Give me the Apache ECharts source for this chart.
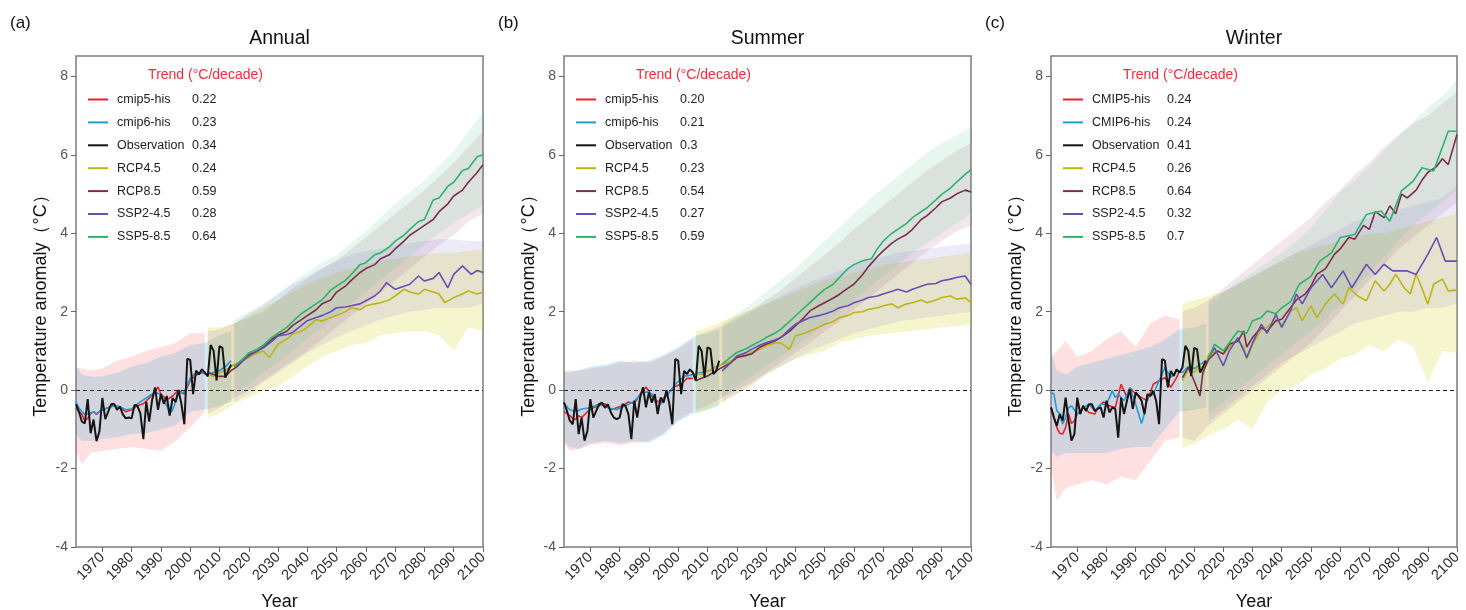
<!DOCTYPE html>
<html>
<head>
<meta charset="utf-8">
<script src="https://cdn.jsdelivr.net/npm/echarts@6/dist/echarts.min.js"></script>
<style>
html, body { margin: 0; background: #fff; }
#chart { width: 1466px; height: 610px; }
</style>
</head>
<body>
<div id="chart"></div>
<script>
// ---- axis ticks ----
const xTicks = [1970, 1980, 1990, 2000, 2010, 2020, 2030, 2040, 2050, 2060, 2070, 2080, 2090, 2100]
const yTicks = [-4, -2, 0, 2, 4, 6, 8]

// ---- years used by the spread bands ----
const cmip5BandYears = [1961, 1963, 1966, 1970, 1975, 1980, 1985, 1990, 1995, 2000, 2005]
const cmip6BandYears = [1961, 1963, 1966, 1970, 1975, 1980, 1985, 1990, 1995, 2000, 2005, 2010, 2014]
const rcpBandYears = [2006, 2010, 2015, 2020, 2025, 2030, 2035, 2040, 2045, 2050, 2055, 2060, 2065, 2070, 2075, 2080, 2085, 2090, 2095, 2100]
const sspBandYears = [2015, 2020, 2025, 2030, 2035, 2040, 2045, 2050, 2055, 2060, 2065, 2070, 2075, 2080, 2085, 2090, 2095, 2100]

// observation years 1961-2014
const obsYears = []
for (let y = 1961; y <= 2014; y++) obsYears.push(y)

// ================= (a) Annual =================
const annObs = [-0.36, -0.55, -0.8, -0.85, -0.23, -1.1, -0.75, -1.3, -1.05, -0.2,
	-0.74, -0.55, -0.36, -0.35, -0.5, -0.42, -0.62, -0.72, -0.7, -0.72,
	-0.38, -0.4, -0.6, -1.25, -0.3, -0.8, -0.25, 0.07, -0.5, -0.1,
	-0.35, -0.15, -0.65, -0.2, -0.3, 0.0, -0.35, -0.87, 0.8, 0.77,
	-0.1, 0.5, 0.4, 0.53, 0.45, 0.35, 1.15, 1.0, 0.25, 1.12,
	1.08, 0.32, 0.5, 0.65]
const annCmip5 = [[1961, -0.45], [1962, -0.55], [1963, -0.62], [1964, -0.78], [1965, -0.72], [1966, -0.6], [1967, -0.55], [1968, -0.62], [1969, -0.55], [1970, -0.5], [1972, -0.45], [1974, -0.38], [1976, -0.45], [1978, -0.55], [1980, -0.5], [1982, -0.4], [1984, -0.35], [1986, -0.2], [1988, -0.05], [1989, 0.08], [1990, -0.1], [1992, -0.25], [1994, -0.15], [1996, 0.0], [1998, -0.1], [2000, 0.25], [2002, 0.38], [2004, 0.45], [2005, 0.42]]
const annCmip6 = [[1961, -0.3], [1962, -0.45], [1963, -0.55], [1964, -0.62], [1965, -0.6], [1966, -0.58], [1967, -0.55], [1968, -0.6], [1970, -0.5], [1972, -0.45], [1974, -0.4], [1976, -0.42], [1978, -0.5], [1980, -0.48], [1982, -0.35], [1984, -0.25], [1986, -0.15], [1988, -0.05], [1990, -0.12], [1992, -0.4], [1993, -0.6], [1994, -0.5], [1996, -0.1], [1998, -0.05], [2000, 0.3], [2002, 0.45], [2004, 0.45], [2006, 0.4], [2008, 0.45], [2010, 0.5], [2012, 0.6], [2014, 0.75]]
const annRcp45 = [[2006, 0.42], [2008, 0.35], [2010, 0.45], [2012, 0.5], [2015, 0.66], [2018, 0.75], [2020, 0.83], [2023, 0.95], [2025, 1.0], [2027, 0.83], [2030, 1.17], [2033, 1.3], [2035, 1.43], [2038, 1.5], [2040, 1.6], [2043, 1.8], [2045, 1.76], [2048, 1.85], [2050, 1.9], [2053, 2.0], [2055, 2.1], [2058, 2.05], [2060, 2.15], [2063, 2.2], [2065, 2.23], [2068, 2.3], [2070, 2.4], [2073, 2.57], [2075, 2.5], [2078, 2.45], [2080, 2.57], [2083, 2.5], [2085, 2.45], [2087, 2.23], [2090, 2.36], [2093, 2.45], [2095, 2.53], [2098, 2.45], [2100, 2.5]]
const annRcp85 = [[2006, 0.45], [2008, 0.4], [2010, 0.35], [2012, 0.35], [2014, 0.5], [2016, 0.6], [2018, 0.75], [2020, 0.9], [2023, 1.0], [2025, 1.1], [2028, 1.3], [2030, 1.4], [2033, 1.5], [2035, 1.65], [2038, 1.8], [2040, 1.9], [2043, 2.05], [2045, 2.2], [2048, 2.3], [2050, 2.5], [2053, 2.65], [2055, 2.8], [2058, 3.0], [2060, 3.1], [2063, 3.2], [2065, 3.35], [2068, 3.45], [2070, 3.6], [2073, 3.8], [2075, 3.95], [2078, 4.1], [2080, 4.2], [2083, 4.35], [2085, 4.55], [2088, 4.75], [2090, 4.95], [2093, 5.1], [2095, 5.3], [2098, 5.55], [2100, 5.75]]
const annSsp245 = [[2015, 0.6], [2018, 0.75], [2020, 0.87], [2023, 1.0], [2025, 1.08], [2028, 1.25], [2030, 1.38], [2033, 1.42], [2035, 1.47], [2038, 1.65], [2040, 1.77], [2043, 1.85], [2045, 1.9], [2048, 2.0], [2050, 2.1], [2053, 2.12], [2055, 2.15], [2058, 2.2], [2060, 2.28], [2063, 2.4], [2065, 2.53], [2067, 2.74], [2070, 2.57], [2073, 2.65], [2075, 2.7], [2078, 2.91], [2080, 2.78], [2083, 2.85], [2085, 3.0], [2088, 2.61], [2090, 2.95], [2093, 3.17], [2096, 2.95], [2098, 3.05], [2100, 3.0]]
const annSsp585 = [[2015, 0.6], [2018, 0.8], [2020, 0.95], [2023, 1.05], [2025, 1.15], [2028, 1.35], [2030, 1.45], [2033, 1.6], [2035, 1.75], [2038, 1.95], [2040, 2.05], [2043, 2.2], [2045, 2.3], [2048, 2.55], [2050, 2.65], [2053, 2.8], [2055, 2.95], [2058, 3.2], [2060, 3.25], [2063, 3.45], [2065, 3.5], [2068, 3.65], [2070, 3.8], [2073, 3.95], [2075, 4.1], [2078, 4.3], [2080, 4.35], [2083, 4.85], [2085, 4.9], [2088, 5.2], [2090, 5.3], [2093, 5.6], [2095, 5.65], [2098, 5.95], [2100, 6.0]]
const annCmip5Lo = [-1.55, -1.89, -1.6, -1.55, -1.5, -1.45, -1.5, -1.55, -1.3, -0.95, -0.55]
const annCmip5Hi = [0.58, 0.55, 0.5, 0.55, 0.75, 0.85, 1.0, 1.1, 1.2, 1.45, 1.45]
const annCmip6Lo = [-1.12, -1.3, -1.3, -1.25, -1.2, -1.12, -1.1, -1.0, -0.9, -0.55, -0.5, -0.4, -0.3]
const annCmip6Hi = [0.62, 0.4, 0.35, 0.35, 0.45, 0.6, 0.7, 0.85, 0.95, 1.15, 1.2, 1.4, 1.5]
const annRcp45Lo = [-0.7, -0.6, -0.35, -0.2, 0.0, 0.1, 0.35, 0.6, 0.85, 1.0, 1.15, 1.2, 1.4, 1.45, 1.5, 1.5, 1.4, 1.0, 1.6, 1.5]
const annRcp45Hi = [1.6, 1.6, 1.7, 1.9, 2.1, 2.3, 2.5, 2.7, 2.85, 3.0, 3.1, 3.2, 3.3, 3.35, 3.4, 3.45, 3.5, 3.5, 3.55, 3.6]
const annRcp85Lo = [-0.6, -0.45, -0.2, 0.0, 0.25, 0.5, 0.75, 1.0, 1.3, 1.6, 1.9, 2.2, 2.5, 2.8, 3.1, 3.4, 3.7, 3.95, 4.3, 4.5]
const annRcp85Hi = [1.5, 1.55, 1.7, 1.85, 2.0, 2.3, 2.6, 2.85, 3.1, 3.3, 3.6, 3.9, 4.2, 4.5, 4.8, 5.1, 5.45, 5.8, 6.2, 6.6]
const annSsp245Lo = [-0.3, -0.1, 0.2, 0.45, 0.7, 0.95, 1.15, 1.35, 1.5, 1.65, 1.8, 1.9, 2.0, 2.05, 2.1, 2.1, 2.1, 2.2]
const annSsp245Hi = [1.7, 1.95, 2.2, 2.45, 2.7, 2.9, 3.1, 3.3, 3.45, 3.55, 3.6, 3.7, 3.75, 3.8, 3.85, 3.85, 3.8, 3.8]
const annSsp585Lo = [-0.1, 0.15, 0.45, 0.7, 1.0, 1.3, 1.6, 1.9, 2.2, 2.5, 2.8, 3.1, 3.4, 3.7, 4.0, 4.25, 4.5, 4.7]
const annSsp585Hi = [1.8, 2.0, 2.15, 2.45, 2.75, 3.0, 3.25, 3.45, 3.75, 4.05, 4.4, 4.75, 5.05, 5.35, 5.7, 6.1, 6.6, 7.1]
const annTrend = ['0.22', '0.23', '0.34', '0.24', '0.59', '0.28', '0.64']

// ================= (b) Summer =================
const sumObs = [-0.31, -0.53, -0.78, -0.87, -0.23, -1.12, -0.7, -1.29, -1.04, -0.23,
	-0.7, -0.53, -0.36, -0.32, -0.45, -0.36, -0.57, -0.7, -0.74, -0.7,
	-0.36, -0.4, -0.61, -1.25, -0.27, -0.7, -0.19, 0.07, -0.44, -0.06,
	-0.32, -0.1, -0.61, -0.19, -0.32, 0.0, -0.36, -0.87, 0.79, 0.75,
	-0.1, 0.49, 0.41, 0.53, 0.45, 0.24, 1.13, 1.0, 0.32, 1.09,
	1.05, 0.41, 0.49, 0.75]
const sumCmip5 = [[1961, -0.55], [1962, -0.6], [1963, -0.65], [1964, -0.72], [1965, -0.75], [1966, -0.65], [1967, -0.7], [1969, -0.55], [1971, -0.45], [1973, -0.4], [1975, -0.35], [1977, -0.5], [1979, -0.45], [1981, -0.4], [1983, -0.3], [1985, -0.35], [1987, -0.1], [1989, 0.08], [1991, -0.15], [1993, -0.3], [1995, -0.2], [1997, -0.05], [1999, 0.1], [2001, 0.15], [2003, 0.3], [2005, 0.3]]
const sumCmip6 = [[1961, -0.35], [1963, -0.5], [1965, -0.55], [1967, -0.48], [1970, -0.45], [1973, -0.35], [1976, -0.45], [1979, -0.5], [1982, -0.4], [1985, -0.28], [1988, -0.05], [1990, -0.05], [1991, -0.1], [1993, -0.45], [1994, -0.35], [1996, -0.15], [1999, 0.15], [2002, 0.35], [2005, 0.4], [2008, 0.45], [2011, 0.5], [2014, 0.65]]
const sumRcp45 = [[2006, 0.45], [2008, 0.4], [2010, 0.49], [2012, 0.55], [2015, 0.66], [2018, 0.75], [2020, 0.83], [2023, 0.9], [2025, 0.96], [2028, 1.05], [2030, 1.13], [2033, 1.2], [2035, 1.21], [2038, 1.04], [2040, 1.38], [2043, 1.45], [2045, 1.51], [2048, 1.6], [2050, 1.68], [2053, 1.75], [2055, 1.85], [2058, 1.9], [2060, 1.98], [2063, 2.0], [2065, 2.06], [2068, 2.1], [2070, 2.15], [2073, 2.2], [2075, 2.1], [2078, 2.2], [2080, 2.23], [2083, 2.3], [2085, 2.23], [2088, 2.3], [2090, 2.36], [2093, 2.4], [2095, 2.32], [2098, 2.35], [2100, 2.23]]
const sumRcp85 = [[2006, 0.24], [2008, 0.3], [2010, 0.36], [2012, 0.45], [2015, 0.58], [2018, 0.7], [2020, 0.83], [2023, 0.88], [2025, 0.92], [2028, 1.1], [2030, 1.17], [2033, 1.25], [2035, 1.34], [2038, 1.5], [2040, 1.64], [2043, 1.85], [2045, 2.02], [2048, 2.15], [2050, 2.23], [2053, 2.35], [2055, 2.44], [2058, 2.6], [2060, 2.7], [2063, 2.95], [2065, 3.15], [2068, 3.4], [2070, 3.55], [2073, 3.75], [2075, 3.85], [2078, 3.97], [2080, 4.1], [2083, 4.35], [2085, 4.45], [2088, 4.65], [2090, 4.8], [2093, 4.9], [2095, 5.0], [2098, 5.1], [2100, 5.05]]
const sumSsp245 = [[2015, 0.49], [2018, 0.7], [2020, 0.87], [2023, 0.95], [2025, 1.04], [2028, 1.15], [2030, 1.21], [2033, 1.28], [2035, 1.34], [2038, 1.55], [2040, 1.68], [2043, 1.78], [2045, 1.85], [2048, 1.9], [2050, 1.94], [2053, 2.02], [2055, 2.1], [2058, 2.15], [2060, 2.23], [2063, 2.3], [2065, 2.36], [2068, 2.4], [2070, 2.45], [2073, 2.52], [2075, 2.57], [2078, 2.5], [2080, 2.57], [2083, 2.65], [2085, 2.7], [2088, 2.72], [2090, 2.79], [2093, 2.83], [2095, 2.87], [2098, 2.91], [2100, 2.7]]
const sumSsp585 = [[2015, 0.66], [2018, 0.85], [2020, 0.96], [2023, 1.05], [2025, 1.13], [2028, 1.25], [2030, 1.34], [2033, 1.45], [2035, 1.55], [2038, 1.75], [2040, 1.89], [2043, 2.1], [2045, 2.23], [2048, 2.44], [2050, 2.57], [2053, 2.7], [2055, 2.87], [2058, 3.1], [2060, 3.2], [2063, 3.3], [2066, 3.35], [2068, 3.6], [2070, 3.8], [2073, 4.0], [2075, 4.1], [2078, 4.25], [2080, 4.4], [2083, 4.55], [2085, 4.65], [2088, 4.85], [2090, 4.99], [2093, 5.15], [2095, 5.3], [2098, 5.5], [2100, 5.62]]
const sumCmip5Lo = [-1.35, -1.55, -1.5, -1.4, -1.35, -1.4, -1.35, -1.3, -1.1, -0.75, -0.55]
const sumCmip5Hi = [0.45, 0.5, 0.5, 0.55, 0.6, 0.7, 0.75, 0.7, 0.85, 1.05, 1.3]
const sumCmip6Lo = [-1.3, -1.45, -1.5, -1.35, -1.3, -1.35, -1.3, -1.35, -1.15, -0.8, -0.6, -0.5, -0.4]
const sumCmip6Hi = [0.5, 0.45, 0.5, 0.6, 0.65, 0.75, 0.7, 0.75, 0.9, 1.1, 1.35, 1.45, 1.55]
const sumRcp45Lo = [-0.6, -0.5, -0.3, -0.1, 0.1, 0.4, 0.6, 0.8, 0.9, 1.0, 1.2, 1.3, 1.38, 1.43, 1.47, 1.51, 1.55, 1.6, 1.62, 1.68]
const sumRcp45Hi = [1.5, 1.6, 1.75, 1.9, 2.05, 2.2, 2.35, 2.5, 2.65, 2.8, 2.9, 3.0, 3.1, 3.2, 3.25, 3.3, 3.35, 3.4, 3.45, 3.5]
const sumRcp85Lo = [-0.5, -0.4, -0.2, 0.0, 0.2, 0.45, 0.7, 0.95, 1.2, 1.5, 1.75, 2.05, 2.35, 2.65, 2.95, 3.25, 3.55, 3.8, 4.05, 4.2]
const sumRcp85Hi = [1.4, 1.5, 1.65, 1.85, 2.05, 2.3, 2.55, 2.85, 3.15, 3.45, 3.75, 4.1, 4.4, 4.7, 5.0, 5.3, 5.6, 5.85, 6.1, 6.3]
const sumSsp245Lo = [-0.3, -0.1, 0.15, 0.4, 0.6, 0.8, 1.0, 1.15, 1.3, 1.45, 1.55, 1.65, 1.75, 1.8, 1.85, 1.9, 1.95, 2.0]
const sumSsp245Hi = [1.6, 1.8, 2.0, 2.2, 2.4, 2.6, 2.75, 2.9, 3.05, 3.2, 3.3, 3.4, 3.5, 3.55, 3.6, 3.65, 3.7, 3.75]
const sumSsp585Lo = [-0.2, 0.1, 0.35, 0.6, 0.85, 1.1, 1.4, 1.7, 2.0, 2.3, 2.6, 2.9, 3.2, 3.5, 3.75, 4.0, 4.25, 4.5]
const sumSsp585Hi = [1.7, 1.95, 2.2, 2.5, 2.8, 3.1, 3.45, 3.8, 4.15, 4.5, 4.85, 5.15, 5.45, 5.75, 6.05, 6.3, 6.5, 6.7]
const sumTrend = ['0.20', '0.21', '0.3', '0.23', '0.54', '0.27', '0.59']

// ================= (c) Winter =================
const winObs = [-0.44, -0.7, -0.91, -0.61, -0.78, -0.19, -0.78, -1.29, -1.12, -0.19,
	-0.61, -0.4, -0.53, -0.36, -0.36, -0.53, -0.48, -0.44, -0.7, -0.27,
	-0.57, -0.44, -0.48, -1.21, -0.19, -0.61, -0.27, 0.02, -0.48, -0.06,
	-0.15, -0.27, -0.61, -0.1, -0.15, -0.02, -0.27, -0.87, 0.79, 0.75,
	0.07, 0.49, 0.36, 0.53, 0.45, 0.58, 1.13, 1.0, 0.36, 1.08,
	1.04, 0.45, 0.58, 0.75]
const winCmip5 = [[1961, -0.44], [1962, -0.7], [1963, -0.95], [1964, -1.1], [1965, -1.12], [1966, -0.95], [1967, -0.6], [1968, -0.85], [1969, -0.78], [1970, -0.61], [1972, -0.45], [1974, -0.57], [1976, -0.61], [1977, -0.45], [1979, -0.3], [1981, -0.4], [1983, -0.45], [1985, 0.15], [1986, -0.02], [1987, -0.19], [1988, 0.06], [1990, -0.1], [1992, -0.19], [1994, -0.27], [1996, 0.15], [1998, 0.24], [2000, 0.32], [2002, 0.07], [2004, 0.32], [2005, 0.49]]
const winCmip6 = [[1961, -0.06], [1962, -0.1], [1963, -0.53], [1964, -0.6], [1965, -0.87], [1966, -0.7], [1967, -0.45], [1968, -0.4], [1970, -0.61], [1972, -0.45], [1974, -0.36], [1976, -0.53], [1978, -0.36], [1980, -0.36], [1982, -0.02], [1983, -0.19], [1984, -0.1], [1986, -0.27], [1988, 0.06], [1990, -0.36], [1992, -0.85], [1993, -0.6], [1994, -0.19], [1996, -0.1], [1998, 0.24], [2000, 0.58], [2002, 0.32], [2004, 0.49], [2006, 0.45], [2008, 0.6], [2010, 0.55], [2012, 0.65], [2014, 0.75]]
const winRcp45 = [[2006, 0.24], [2008, 0.53], [2010, 0.45], [2012, 0.66], [2013, 0.4], [2015, 0.92], [2018, 1.0], [2020, 0.92], [2023, 1.17], [2025, 1.25], [2027, 1.1], [2028, 0.79], [2030, 1.17], [2033, 1.55], [2035, 1.6], [2038, 1.81], [2040, 1.64], [2043, 2.02], [2045, 2.1], [2047, 1.77], [2050, 2.15], [2052, 1.85], [2055, 2.2], [2058, 2.45], [2061, 2.19], [2063, 2.62], [2066, 2.4], [2069, 2.28], [2072, 2.79], [2075, 2.53], [2077, 2.7], [2079, 2.96], [2082, 2.6], [2084, 2.45], [2086, 2.96], [2088, 2.6], [2090, 2.19], [2092, 2.7], [2095, 2.83], [2097, 2.53], [2100, 2.55]]
const winRcp85 = [[2006, 0.32], [2008, 0.58], [2010, 0.24], [2012, -0.15], [2013, 0.45], [2015, 0.79], [2018, 1.0], [2020, 0.92], [2022, 1.17], [2025, 1.25], [2027, 1.51], [2028, 1.1], [2030, 1.34], [2033, 1.6], [2035, 1.5], [2038, 1.77], [2040, 1.81], [2043, 2.1], [2045, 2.3], [2048, 2.45], [2050, 2.65], [2052, 2.95], [2055, 3.1], [2058, 3.46], [2060, 3.6], [2063, 3.9], [2065, 3.85], [2068, 4.2], [2070, 4.1], [2072, 4.55], [2075, 4.4], [2077, 4.7], [2079, 4.5], [2081, 5.0], [2083, 4.9], [2086, 5.1], [2088, 5.35], [2090, 5.55], [2093, 5.7], [2095, 5.9], [2097, 5.75], [2100, 6.52]]
const winSsp245 = [[2015, 0.83], [2017, 1.08], [2020, 0.62], [2022, 1.0], [2025, 1.34], [2028, 0.83], [2030, 1.2], [2033, 1.68], [2035, 1.45], [2038, 1.93], [2040, 1.6], [2043, 2.02], [2045, 2.45], [2047, 2.2], [2050, 2.61], [2054, 2.95], [2057, 2.61], [2061, 3.04], [2064, 2.61], [2069, 3.21], [2072, 2.95], [2075, 3.21], [2078, 3.04], [2083, 3.04], [2086, 2.95], [2090, 3.46], [2093, 3.89], [2096, 3.29], [2100, 3.29]]
const winSsp585 = [[2015, 0.83], [2017, 1.17], [2020, 1.0], [2022, 1.2], [2025, 1.51], [2028, 1.45], [2030, 1.77], [2033, 1.85], [2035, 2.02], [2038, 1.95], [2040, 2.1], [2043, 2.25], [2046, 2.7], [2050, 2.9], [2053, 3.29], [2057, 3.5], [2060, 3.89], [2065, 3.97], [2069, 4.48], [2074, 4.57], [2077, 4.31], [2081, 5.08], [2085, 5.33], [2088, 5.67], [2092, 5.59], [2097, 6.6], [2100, 6.6]]
const winCmip5Lo = [-1.97, -2.82, -2.5, -2.4, -2.3, -2.4, -2.2, -2.3, -1.8, -1.3, -1.2]
const winCmip5Hi = [0.83, 1.0, 1.25, 0.85, 1.0, 1.3, 1.5, 1.1, 1.7, 1.9, 1.8]
const winCmip6Lo = [-1.55, -1.7, -1.6, -1.6, -1.6, -1.6, -1.5, -1.45, -1.45, -1.0, -0.55, -0.5, -0.45]
const winCmip6Hi = [1.0, 0.5, 0.4, 0.6, 0.7, 0.8, 0.9, 1.0, 1.1, 1.3, 1.55, 1.6, 1.7]
const winRcp45Lo = [-1.46, -1.38, -1.15, -1.0, -0.75, -1.0, -0.3, 0.0, 0.1, 0.4, 0.55, 0.8, 0.9, 1.15, 1.0, 1.3, 1.1, 0.2, 1.0, 0.95]
const winRcp45Hi = [2.2, 2.3, 2.4, 2.5, 2.7, 2.9, 3.1, 3.3, 3.5, 3.6, 3.7, 3.8, 3.9, 4.0, 4.0, 4.1, 4.2, 4.3, 4.4, 4.5]
const winRcp85Lo = [-1.2, -1.3, -0.9, -0.6, -0.3, 0.0, 0.3, 0.6, 0.9, 1.2, 1.6, 2.0, 2.4, 2.8, 3.2, 3.6, 3.9, 4.2, 4.5, 4.8]
const winRcp85Hi = [2.0, 2.1, 2.3, 2.6, 2.9, 3.2, 3.5, 3.8, 4.1, 4.4, 4.8, 5.1, 5.5, 5.8, 6.2, 6.5, 6.8, 7.0, 7.3, 7.6]
const winSsp245Lo = [-0.8, -0.5, -0.2, 0.1, 0.4, 0.7, 0.9, 1.1, 1.3, 1.5, 1.7, 1.8, 1.9, 2.0, 2.0, 2.1, 2.1, 2.2]
const winSsp245Hi = [2.3, 2.5, 2.7, 2.9, 3.1, 3.3, 3.5, 3.7, 3.9, 4.1, 4.3, 4.4, 4.5, 4.6, 4.7, 4.8, 4.9, 5.2]
const winSsp585Lo = [-0.6, -0.3, 0.0, 0.3, 0.6, 0.9, 1.2, 1.5, 1.8, 2.2, 2.6, 3.0, 3.4, 3.8, 4.2, 4.5, 4.8, 5.1]
const winSsp585Hi = [2.2, 2.5, 2.75, 3.0, 3.25, 3.5, 3.8, 4.15, 4.6, 5.05, 5.35, 5.7, 6.1, 6.5, 6.85, 7.2, 7.5, 7.9]
const winTrend = ['0.24', '0.24', '0.41', '0.26', '0.64', '0.32', '0.7']

// ---- styling ----
const FONT = '"Liberation Sans", Arial, sans-serif'
const lineColors = ['#e8232b', '#1b9ed9', '#151515', '#bdb514', '#7a2e4f', '#6750b5', '#2cb46a']
const bandFills = {
	cmip5: 'rgba(255,60,70,0.16)',
	cmip6: 'rgba(40,165,215,0.2)',
	rcp45: 'rgba(215,215,50,0.24)',
	rcp85: 'rgba(150,60,100,0.12)',
	ssp245: 'rgba(120,100,210,0.13)',
	ssp585: 'rgba(70,195,130,0.13)'
}

const panels = [
	{
		left: 76, width: 407, letter: '(a)', title: 'Annual',
		names: ['cmip5-his', 'cmip6-his', 'Observation', 'RCP4.5', 'RCP8.5', 'SSP2-4.5', 'SSP5-8.5'],
		trend: annTrend, obs: annObs,
		lines: [annCmip5, annCmip6, null, annRcp45, annRcp85, annSsp245, annSsp585],
		bands: [
			['cmip5', cmip5BandYears, annCmip5Lo, annCmip5Hi],
			['cmip6', cmip6BandYears, annCmip6Lo, annCmip6Hi],
			['rcp45', rcpBandYears, annRcp45Lo, annRcp45Hi],
			['rcp85', rcpBandYears, annRcp85Lo, annRcp85Hi],
			['ssp245', sspBandYears, annSsp245Lo, annSsp245Hi],
			['ssp585', sspBandYears, annSsp585Lo, annSsp585Hi]
		]
	},
	{
		left: 564, width: 407, letter: '(b)', title: 'Summer',
		names: ['cmip5-his', 'cmip6-his', 'Observation', 'RCP4.5', 'RCP8.5', 'SSP2-4.5', 'SSP5-8.5'],
		trend: sumTrend, obs: sumObs,
		lines: [sumCmip5, sumCmip6, null, sumRcp45, sumRcp85, sumSsp245, sumSsp585],
		bands: [
			['cmip5', cmip5BandYears, sumCmip5Lo, sumCmip5Hi],
			['cmip6', cmip6BandYears, sumCmip6Lo, sumCmip6Hi],
			['rcp45', rcpBandYears, sumRcp45Lo, sumRcp45Hi],
			['rcp85', rcpBandYears, sumRcp85Lo, sumRcp85Hi],
			['ssp245', sspBandYears, sumSsp245Lo, sumSsp245Hi],
			['ssp585', sspBandYears, sumSsp585Lo, sumSsp585Hi]
		]
	},
	{
		left: 1051, width: 406, letter: '(c)', title: 'Winter',
		names: ['CMIP5-his', 'CMIP6-his', 'Observation', 'RCP4.5', 'RCP8.5', 'SSP2-4.5', 'SSP5-8.5'],
		trend: winTrend, obs: winObs,
		lines: [winCmip5, winCmip6, null, winRcp45, winRcp85, winSsp245, winSsp585],
		bands: [
			['cmip5', cmip5BandYears, winCmip5Lo, winCmip5Hi],
			['cmip6', cmip6BandYears, winCmip6Lo, winCmip6Hi],
			['rcp45', rcpBandYears, winRcp45Lo, winRcp45Hi],
			['rcp85', rcpBandYears, winRcp85Lo, winRcp85Hi],
			['ssp245', sspBandYears, winSsp245Lo, winSsp245Hi],
			['ssp585', sspBandYears, winSsp585Lo, winSsp585Hi]
		]
	}
]

const GRID_TOP = 56
const GRID_H = 491

function bandSeries(key, years, lo, hi, gi) {
	const data = years.map((y, i) => [y, lo[i], hi[i]])
	return {
		type: 'custom',
		name: 'band-' + key + '-' + gi,
		xAxisIndex: gi,
		yAxisIndex: gi,
		silent: true,
		z: 1,
		data: data,
		encode: { x: 0, y: [1, 2] },
		renderItem(params, api) {
			if (params.dataIndex !== 0) return null
			const top = data.map(d => api.coord([d[0], d[2]]))
			const bottom = data.map(d => api.coord([d[0], d[1]])).reverse()
			return {
				type: 'polygon',
				shape: { points: top.concat(bottom) },
				style: { fill: bandFills[key] }
			}
		}
	}
}

function lineSeries(name, data, color, width, gi, z) {
	return {
		type: 'line',
		name: name,
		xAxisIndex: gi,
		yAxisIndex: gi,
		data: data,
		color: color,
		symbol: 'none',
		showSymbol: false,
		z: z,
		lineStyle: { color: color, width: width },
		emphasis: { disabled: true }
	}
}

const grids = [], xAxes = [], yAxes = [], series = [], legends = [], graphics = []

panels.forEach((p, gi) => {
	grids.push({
		left: p.left, top: GRID_TOP, width: p.width, height: GRID_H,
		containLabel: false, outerBoundsMode: 'none',
		show: true, borderColor: '#7c7c7c', borderWidth: 1.5, backgroundColor: 'transparent'
	})
	xAxes.push({
		gridIndex: gi, type: 'value', min: 1961, max: 2100,
		axisLine: { show: false, onZero: false },
		splitLine: { show: false },
		axisTick: { show: true, length: 5, lineStyle: { color: '#666' }, customValues: xTicks },
		axisLabel: {
			rotate: 45, margin: 8, fontSize: 14.5, color: '#2a2a2a', fontFamily: FONT,
			customValues: xTicks, formatter: v => String(v)
		},
		name: 'Year', nameLocation: 'middle', nameGap: 46,
		nameTextStyle: { fontSize: 18, color: '#111', fontFamily: FONT }
	})
	yAxes.push({
		gridIndex: gi, type: 'value', min: -4, max: 8.52,
		axisLine: { show: false, onZero: false },
		splitLine: { show: false },
		axisTick: { show: true, length: 5, lineStyle: { color: '#666' }, customValues: yTicks },
		axisLabel: { margin: 8, fontSize: 14, color: '#555', fontFamily: FONT, customValues: yTicks },
		name: 'Temperature anomaly（°C）', nameLocation: 'middle', nameGap: 26,
		nameTextStyle: { fontSize: 18, color: '#111', fontFamily: FONT }
	})

	p.bands.forEach(b => series.push(bandSeries(b[0], b[1], b[2], b[3], gi)))

	// model means
	;[0, 1, 3, 4, 5, 6].forEach(k => {
		series.push(lineSeries(p.names[k], p.lines[k], lineColors[k], 1.6, gi, 3))
	})
	// observation on top, with the dashed zero line
	const obs = lineSeries(p.names[2], obsYears.map((y, i) => [y, p.obs[i]]), lineColors[2], 2, gi, 4)
	obs.markLine = {
		silent: true, symbol: 'none', animation: false,
		label: { show: false },
		lineStyle: { type: [4, 3], color: '#222', width: 1.2 },
		data: [{ yAxis: 0 }]
	}
	series.push(obs)

	const trendOf = {}
	p.names.forEach((n, i) => { trendOf[n] = p.trend[i] })
	const legendLeft = p.left + 12
	legends.push({
		left: legendLeft, top: 93, padding: 0,
		orient: 'vertical', itemGap: 9.9,
		itemWidth: 20, itemHeight: 2, icon: 'rect',
		selectedMode: false,
		data: p.names,
		textStyle: {
			fontFamily: FONT, fontSize: 12.5, color: '#222',
			rich: {
				n: { width: 75, padding: [0, 0, 0, 4], fontSize: 12.5, lineHeight: 14, fontFamily: FONT, color: '#222' },
				v: { fontSize: 12.5, lineHeight: 14, fontFamily: FONT, color: '#222' }
			}
		},
		formatter: name => '{n|' + name + '}{v|' + trendOf[name] + '}'
	})

	graphics.push({
		type: 'text', x: p.left - 66, y: 23.5,
		style: { text: p.letter, font: '17px ' + FONT, fill: '#111', verticalAlign: 'middle', textVerticalAlign: 'middle' }
	})
	graphics.push({
		type: 'text', x: p.left + p.width / 2, y: 38.5,
		style: { text: p.title, font: '19.5px ' + FONT, fill: '#111', align: 'center', textAlign: 'center', verticalAlign: 'middle', textVerticalAlign: 'middle' }
	})
	graphics.push({
		type: 'text', x: legendLeft + 117.5, y: 75,
		style: { text: 'Trend (°C/decade)', font: '14px ' + FONT, fill: '#ff2a3a', align: 'center', textAlign: 'center', verticalAlign: 'middle', textVerticalAlign: 'middle' }
	})
})

const chart = echarts.init(document.getElementById('chart'))
chart.setOption({
	animation: false,
	backgroundColor: '#fff',
	textStyle: { fontFamily: FONT },
	grid: grids,
	xAxis: xAxes,
	yAxis: yAxes,
	legend: legends,
	graphic: graphics,
	series: series
})
</script>
</body>
</html>
